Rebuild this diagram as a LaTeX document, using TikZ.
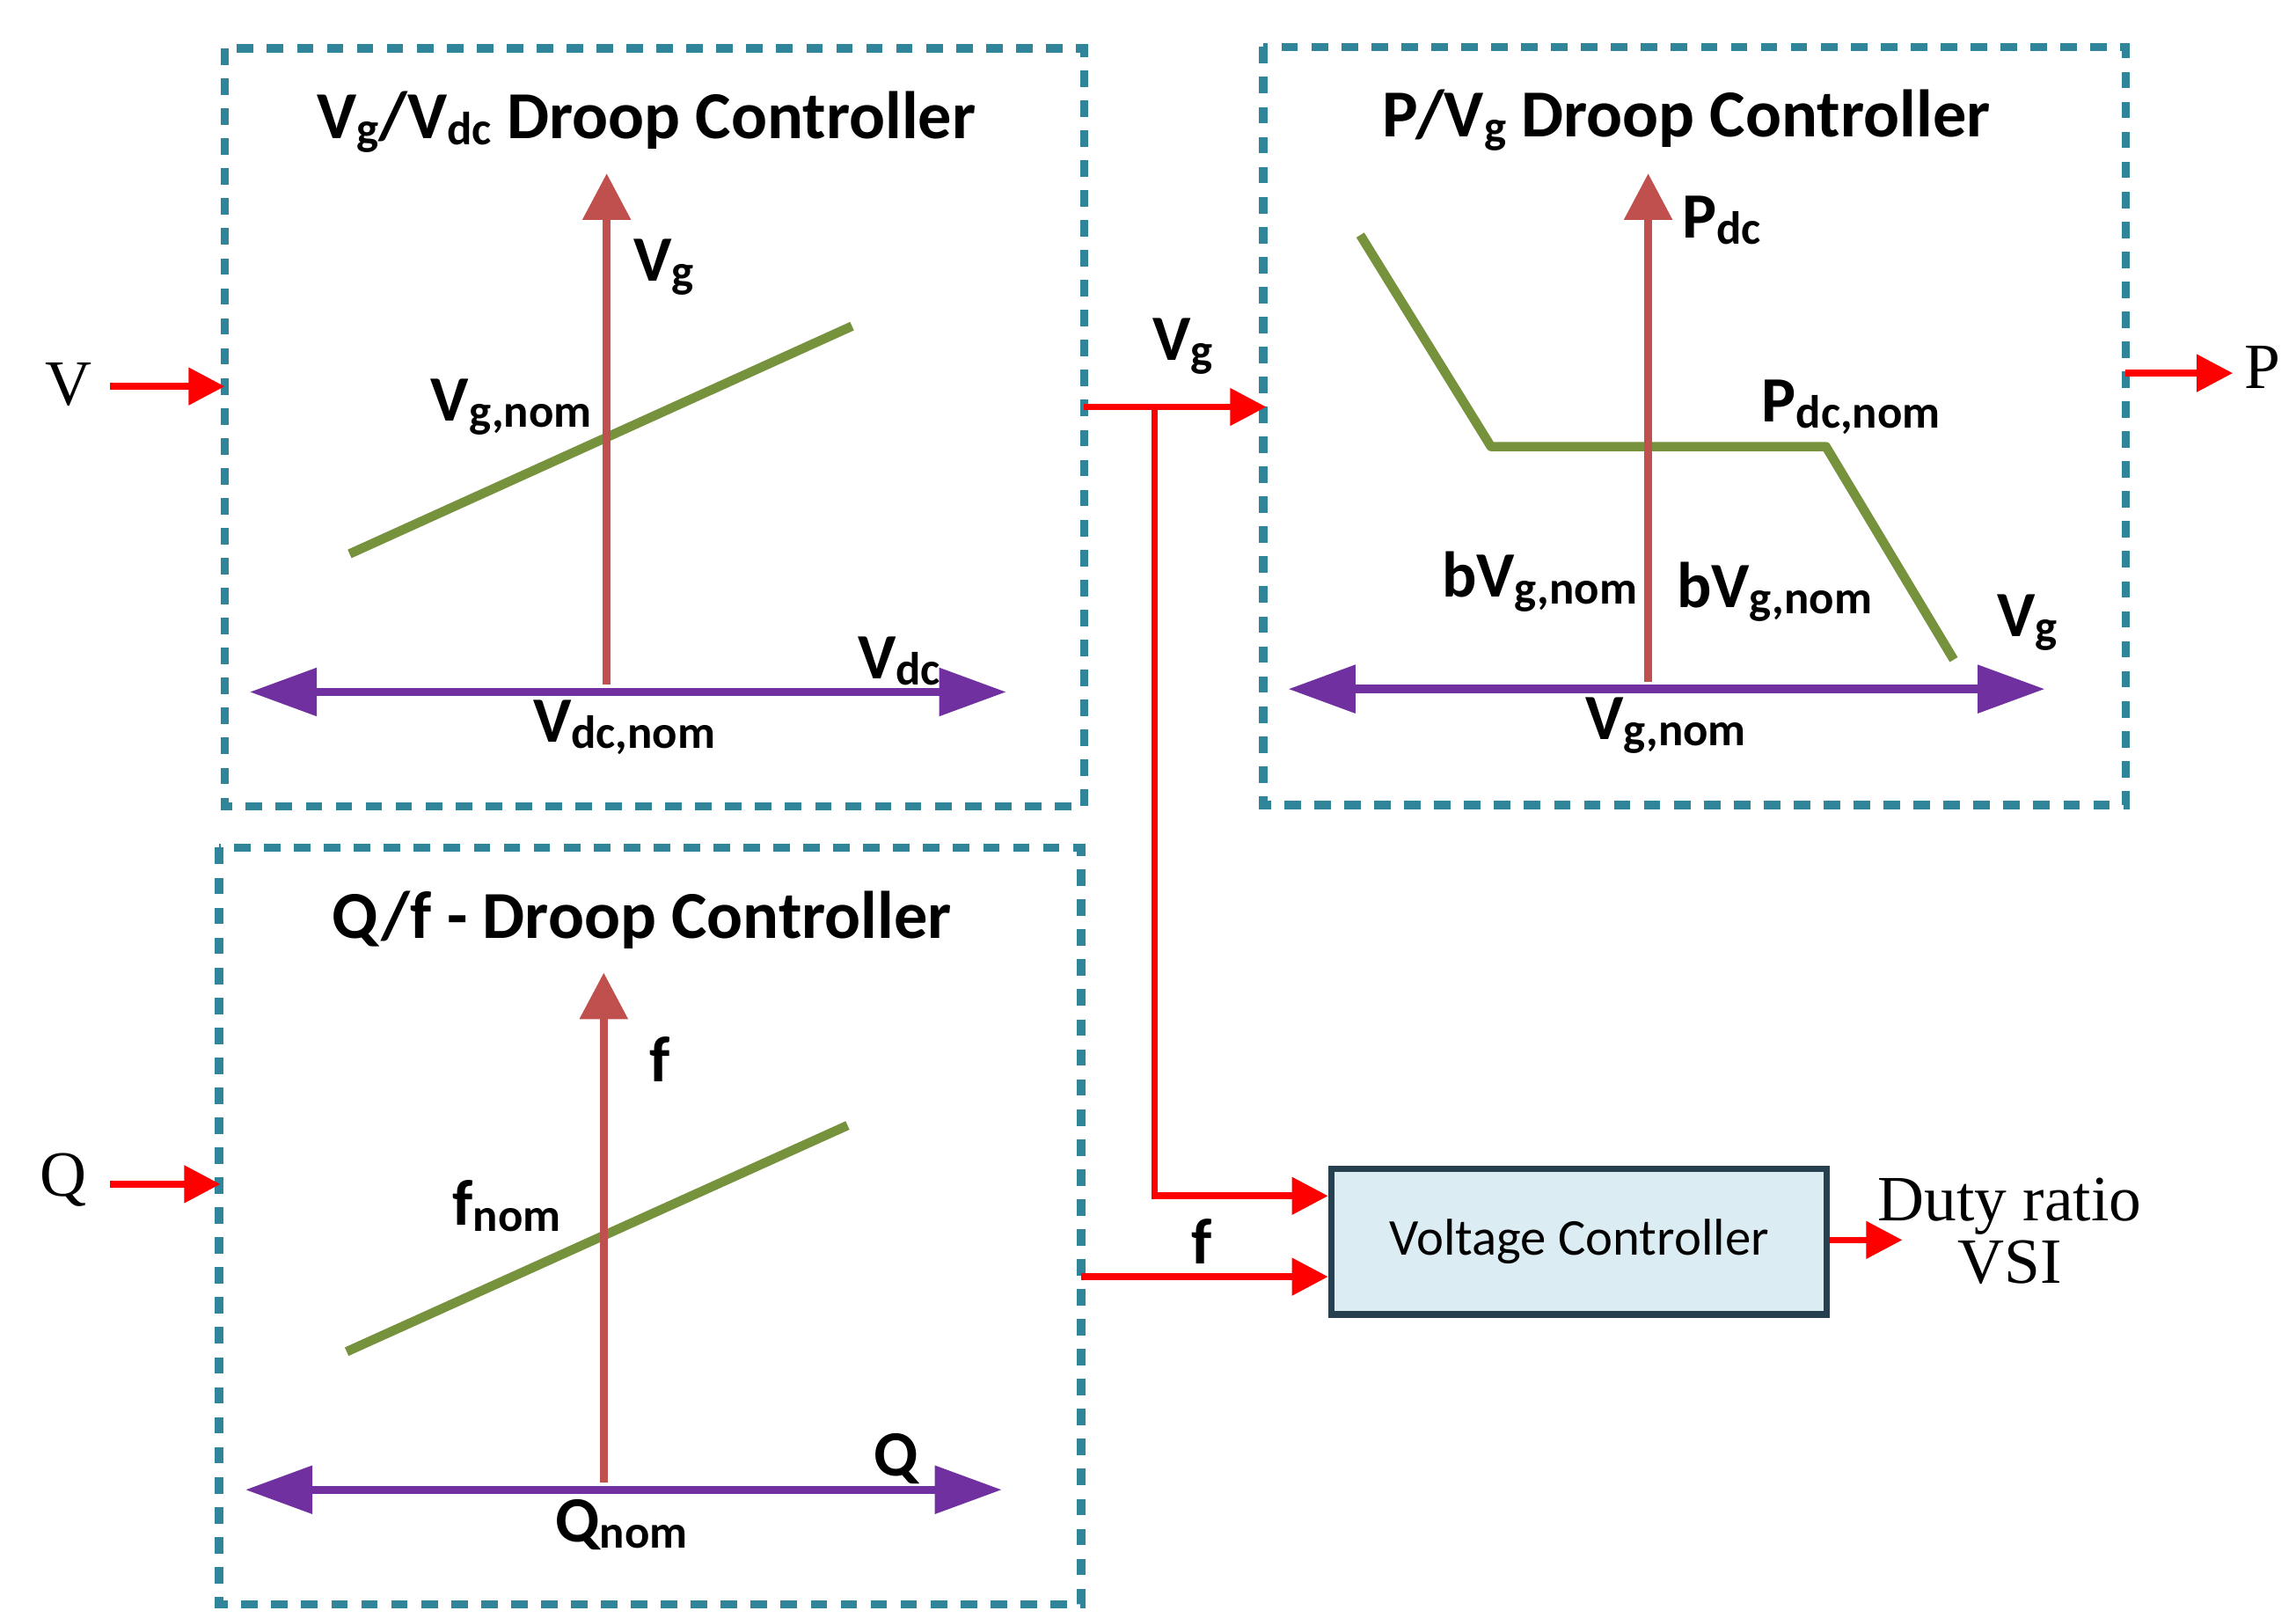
\documentclass[tikz,border=0pt]{standalone}
\usepackage{fontspec}
\setmainfont{Carlito}
\newfontfamily\tms{Liberation Serif}
\usetikzlibrary{arrows.meta}
\newcommand\sbx[1]{\raisebox{-0.2ex}{\fontsize{9}{9}\selectfont #1}}
\definecolor{teal}{RGB}{49,133,155}
\definecolor{axr}{RGB}{192,80,77}
\definecolor{grn}{RGB}{118,146,60}
\definecolor{pur}{RGB}{112,48,160}
\definecolor{vcf}{RGB}{219,236,242}
\definecolor{vcd}{RGB}{38,64,80}
\begin{document}
\begin{tikzpicture}[x={(0.01cm,0)},y={(0,-0.01cm)},
 box/.style={draw=teal,line width=1.6pt,dash pattern=on 3.2pt off 2.6pt},
 yax/.style={draw=axr,line width=1.6pt,-{Triangle[length=9pt,width=9pt]}},
 xax/.style={draw=pur,line width=1.6pt,{Triangle[length=13pt,width=9pt]}-{Triangle[length=13pt,width=9pt]}},
 crv/.style={draw=grn,line width=1.8pt},
 sig/.style={draw=red,line width=1.3pt,-{Triangle[length=7pt,width=7pt]}},
 ttl/.style={font=\fontsize{13}{15}\selectfont\bfseries},
 lab/.style={font=\fontsize{12.5}{14}\selectfont\bfseries},
 tl/.style={font=\tms\fontsize{12.5}{14}\selectfont}]
\useasboundingbox (0,0) rectangle (1563,1101);
% boxes
\draw[box] (153,33) rectangle (738,549);
\draw[box] (860,32) rectangle (1447,548);
\draw[box] (149,577) rectangle (736,1092);
% box1
\node[ttl] (t1) at (440,83) {V\sbx{g}/V\sbx{dc} Droop Controller};
\coordinate (a1b) at (413,466); \coordinate (a1t) at (413,118);
\draw[crv] (238,377) coordinate (g1a) -- (580,222) coordinate (g1b);
\draw[yax] (a1b) -- (a1t);
\draw[xax] (170,471) coordinate (x1a) -- (685,471) coordinate (x1b);
\node[lab] (l1) at (452,182) {V\sbx{g}};
\node[lab] (l2) at (348,277) {V\sbx{g,nom}};
\node[lab] (l3) at (612,450) {V\sbx{dc}};
\node[lab] (l4) at (425,495) {V\sbx{dc,nom}};
% box2
\node[ttl] (t2) at (1148,82) {P/V\sbx{g} Droop Controller};
\coordinate (a2b) at (1122,464); \coordinate (a2t) at (1122,118);
\draw[crv,line join=round] (926,160) coordinate (c1) -- (1015,304) coordinate (c2) -- (1243,304) coordinate (c3) -- (1330,449) coordinate (c4);
\draw[yax] (a2b) -- (a2t);
\draw[xax] (877,469) coordinate (x2a) -- (1392,469) coordinate (x2b);
\node[lab] (m1) at (1172,150) {P\sbx{dc}};
\node[lab] (m2) at (1260,277) {P\sbx{dc,nom}};
\node[lab] (m3) at (1048,396) {bV\sbx{g,nom}};
\node[lab] (m4) at (1208,403) {bV\sbx{g,nom}};
\node[lab] (m5) at (1380,424) {V\sbx{g}};
\node[lab] (m6) at (1134,494) {V\sbx{g,nom}};
% box3
\node[ttl] (t3) at (437,626) {Q/f - Droop Controller};
\coordinate (a3b) at (411,1009); \coordinate (a3t) at (411,662);
\draw[crv] (236,920) coordinate (g3a) -- (577,766) coordinate (g3b);
\draw[yax] (a3b) -- (a3t);
\draw[xax] (167,1014) coordinate (x3a) -- (682,1014) coordinate (x3b);
\node[lab] (n1) at (449,721) {f};
\node[lab] (n2) at (345,821) {f\sbx{nom}};
\node[lab] (n3) at (610,993) {Q};
\node[lab] (n4) at (423,1038) {Q\sbx{nom}};
% voltage controller
\node[draw=vcd,fill=vcf,line width=1.3pt,minimum width=3.37cm,minimum height=0.99cm,font=\fontsize{10}{12}\selectfont] (vc) at (1075,845) {Voltage Controller};
% signals
\coordinate (vin) at (75,263); \coordinate (vend) at (153,263);
\draw[sig] (vin) -- (vend);
\node[tl] (vl) at (47,262) {V};
\coordinate (qin) at (75,806); \coordinate (qend) at (150,806);
\draw[sig] (qin) -- (qend);
\node[tl] (ql) at (43,803) {Q};
\coordinate (pin) at (1447,254); \coordinate (pend) at (1520,254);
\draw[sig] (pin) -- (pend);
\node[tl] (pl) at (1540,250) {P};
\coordinate (vg0) at (738,277); \coordinate (vg1) at (862,277); \coordinate (br) at (786,277);
\draw[sig] (vg0) -- (vg1);
\node[lab] (vgl) at (805,236) {V\sbx{g}};
\draw[sig] (br) |- (vc.west |- 0,814);
\coordinate (f0) at (736,869);
\draw[sig] (f0) -- (vc.west |- f0);
\node[lab] (fl) at (818,845) {f};
\coordinate (dend) at (1295,844);
\draw[sig] (vc.east |- dend) -- (dend);
\node[tl,align=center] (dl) at (1368,838) {Duty ratio\\[-2pt]VSI};
\end{tikzpicture}
\end{document}
